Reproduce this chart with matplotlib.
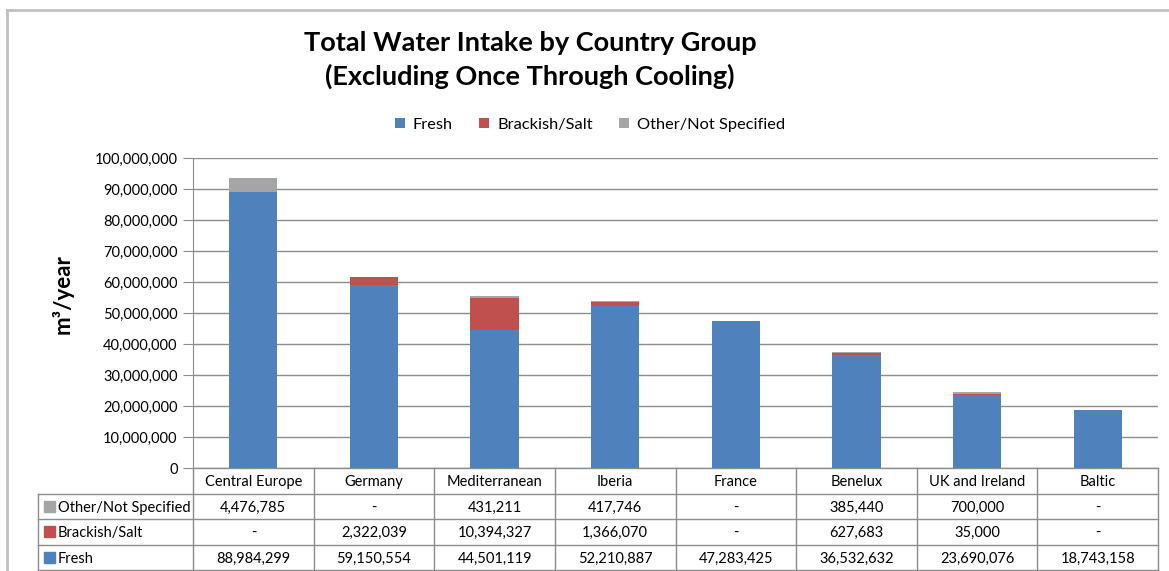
import numpy as np
import matplotlib
matplotlib.use("Agg")
import matplotlib.pyplot as plt
from matplotlib.patches import Rectangle
from matplotlib.transforms import blended_transform_factory
from matplotlib.ticker import FuncFormatter

plt.rcParams['font.family'] = ['Lato', 'DejaVu Sans']

# data
groups = ['Central Europe', 'Germany', 'Mediterranean', 'Iberia', 'France',
          'Benelux', 'UK and Ireland', 'Baltic']
fresh = [88984299, 59150554, 44501119, 52210887, 47283425, 36532632, 23690076, 18743158]
brackish = [0, 2322039, 10394327, 1366070, 0, 627683, 35000, 0]
other = [4476785, 0, 431211, 417746, 0, 385440, 700000, 0]
series_names = ['Fresh', 'Brackish/Salt', 'Other/Not Specified']
colors = ['#4F81BD', '#C0504D', '#A5A5A5']

W, H = 1169, 571
fig = plt.figure(figsize=(W / 100, H / 100), dpi=100)

# plot area in pixels: left 193, right 1158, top 158, bottom 468
ax = fig.add_axes([193 / W, 1 - 468 / H, (1158 - 193) / W, (468 - 158) / H])

x = np.arange(len(groups))
fresh_a = np.array(fresh)
brack_a = np.array(brackish)
other_a = np.array(other)
ax.bar(x, fresh_a, width=0.4, color=colors[0], label=series_names[0], zorder=3)
ax.bar(x, brack_a, width=0.4, bottom=fresh_a, color=colors[1], label=series_names[1], zorder=3)
ax.bar(x, other_a, width=0.4, bottom=fresh_a + brack_a, color=colors[2], label=series_names[2], zorder=3)

ax.set_xlim(-0.5, len(groups) - 0.5)
ax.set_ylim(0, 100000000)
ax.set_yticks(np.arange(0, 100000001, 10000000))
ax.yaxis.set_major_formatter(FuncFormatter(lambda v, p: f'{int(v):,}'))
ax.tick_params(axis='y', length=7, color='#8C8C8C', labelsize=10.5, pad=4)
ax.set_xticks([])
ax.grid(axis='y', color='#8C8C8C', linewidth=1, zorder=0)
for s in ['top', 'right', 'bottom']:
    ax.spines[s].set_visible(False)
ax.spines['left'].set_color('#8C8C8C')

ax.set_ylabel('m³/year', fontsize=16, fontweight='bold')
ax.yaxis.set_label_coords((74 - 193) / (1158 - 193), 0.56)

# title and legend
fig.text(530 / W, 1 - 60 / H, 'Total Water Intake by Country Group\n(Excluding Once Through Cooling)',
         ha='center', va='center', fontsize=19.5, fontweight='bold', linespacing=1.45)
handles, labels = ax.get_legend_handles_labels()
fig.legend(handles, labels, loc='center', bbox_to_anchor=(590 / W, 1 - 125 / H), ncol=3,
           frameon=False, fontsize=11.8, handlelength=0.6, handleheight=0.6,
           handletextpad=0.5, columnspacing=1.6)

# data table below the plot
tr = blended_transform_factory(ax.transData, ax.transAxes)
ph = 468 - 158
row_h = 25.5 / ph
label_left = -0.5 - (193 - 38) / ((1158 - 193) / len(groups))
line_kw = dict(color='#8C8C8C', linewidth=1, transform=tr, clip_on=False)
n = len(groups)
# horizontal lines
ax.plot([-0.5, n - 0.5], [0, 0], **line_kw)
for k in range(1, 5):
    ax.plot([label_left, n - 0.5], [-k * row_h, -k * row_h], **line_kw)
# vertical lines
ax.plot([label_left, label_left], [-row_h, -4 * row_h], **line_kw)
for i in range(n + 1):
    ax.plot([i - 0.5, i - 0.5], [0, -4 * row_h], **line_kw)

for i, g in enumerate(groups):
    ax.text(i, -0.55 * row_h, g, ha='center', va='center', fontsize=10.5, transform=tr)

def fmt(v):
    return f'{v:,}' if v else '-'

table_rows = [(series_names[2], other, colors[2]),
              (series_names[1], brackish, colors[1]),
              (series_names[0], fresh, colors[0])]
unit = (1158 - 193) / n
for r, (name, vals, c) in enumerate(table_rows):
    yc = -(r + 1.55) * row_h
    ax.add_patch(Rectangle((label_left + 6 / unit, yc - 4 / ph), 11 / unit, 11 / ph,
                           color=c, transform=tr, clip_on=False))
    ax.text(label_left + 20 / unit, yc, name, ha='left', va='center', fontsize=10.5, transform=tr)
    for i, v in enumerate(vals):
        ax.text(i, yc, fmt(v), ha='center', va='center', fontsize=10.5, transform=tr)

# outer chart border
fig.add_artist(plt.Line2D([7 / W, 7 / W], [0, 1 - 10 / H], color='#BFBFBF', linewidth=2))
fig.add_artist(plt.Line2D([7 / W, 1], [1 - 10 / H, 1 - 10 / H], color='#BFBFBF', linewidth=2))

fig.savefig('out.png', dpi=100)
